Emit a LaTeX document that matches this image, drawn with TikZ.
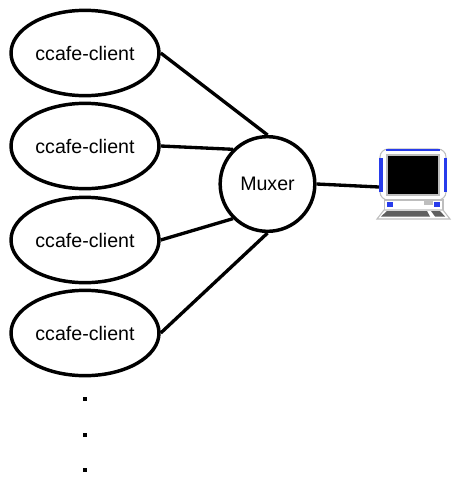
\documentclass[tikz,border=0pt]{standalone}
\usepackage{fontspec}
\setmainfont{Liberation Sans}
\usepackage{xcolor}
\usetikzlibrary{shapes.geometric}
\definecolor{screenblue}{RGB}{40,60,235}
\definecolor{bezelgray}{RGB}{190,190,190}
\definecolor{keygray}{RGB}{95,95,95}
\tikzset{
    client/.style={draw, ellipse, line width=2.6pt, minimum width=111pt, minimum height=64pt, inner sep=0pt, font=\fontsize{14.7}{16}\selectfont},
    muxer/.style={draw, circle, line width=2.6pt, minimum size=71pt, inner sep=0pt, font=\fontsize{14.7}{16}\selectfont},
    link/.style={line width=2.5pt}
}
\begin{document}
\begin{tikzpicture}[x=0.75pt, y=-0.75pt]
        \useasboundingbox (0,0) rectangle (458,482);
        \foreach \n/\y in {1/53, 2/146, 3/240, 4/333}{
        \node[client] (client\n) at (85,\y) {ccafe-client};}
        \node[muxer] (mux) at (267.5,184) {Muxer};
        \coordinate (terminal) at (379,187);
        \draw[link] (client1.east) -- (mux.north);
        \draw[link] (client2.east) -- (mux.135);
        \draw[link] (client3.east) -- (mux.225);
        \draw[link] (client4.east) -- (mux.south);
        \draw[link] (mux.east) -- (terminal);
        % monitor
        \draw[bezelgray, line width=0.8pt, fill=white, rounded corners=6pt] (380,149) rectangle (446,200);
        \fill[screenblue] (379,158) rectangle (382.5,192);
        \fill[screenblue] (443.5,158) rectangle (447,192);
        \fill[screenblue] (386,148.5) rectangle (440,151);
        \fill[black, draw=bezelgray, line width=0.8pt] (387,155) rectangle (439,195);
        \draw[bezelgray, line width=0.8pt] (384.5,200) rectangle (443,211);
        \foreach \x in {387, 434}{
        \fill[screenblue] (\x,202) rectangle (\x+6,207);}
        \fill[bezelgray] (424,201) rectangle (433,205);
        % keyboard
        \draw[bezelgray, line width=0.8pt, fill=white] (384,210) -- (443,210) -- (450,219) -- (377,219) -- cycle;
        \fill[keygray] (387,211) -- (427,211) -- (430,216.5) -- (381,216.5) -- cycle;
        \fill[keygray] (431,211) -- (440,211) -- (445,216.5) -- (435,216.5) -- cycle;
        % dots
        \foreach \y in {399, 434.5, 469.5}{
        \fill[black] (83,\y-2) rectangle (87,\y+2);}
    \end{tikzpicture}
\end{document}
